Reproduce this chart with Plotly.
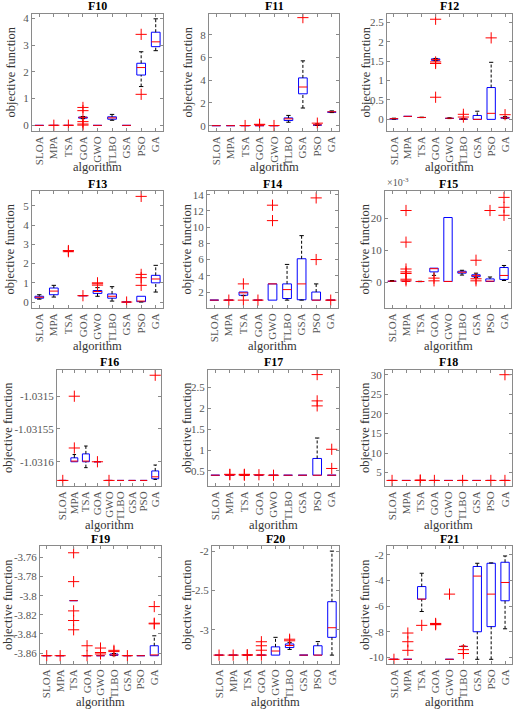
import plotly.graph_objects as go

ALGS = ["SLOA", "MPA", "TSA", "GOA", "GWO", "TLBO", "GSA", "PSO", "GA"]
FUNCS = ["F10", "F11", "F12", "F13", "F14", "F15", "F16", "F17", "F18", "F19", "F20", "F21"]
X_TITLE = "algorithm"
Y_TITLE = "objective function"

# each row: [lower whisker, q1, median, q3, upper whisker], one row per algorithm
F10_BOX = [[0, 0, 0, 0, 0], [0, 0, 0, 0, 0], [0, 0, 0, 0, 0],
           [0.25, 0.27, 0.30, 0.31, 0.33], [0, 0, 0, 0, 0],
           [0.19, 0.23, 0.28, 0.32, 0.41], [0, 0, 0, 0, 0],
           [1.45, 1.88, 2.16, 2.32, 2.75], [2.79, 2.94, 3.12, 3.48, 3.98]]
F10_OUT = [[], [0.005], [0.005], [0.67, 0.55, 0.14, 0.05, 0.01], [], [], [], [3.40, 1.16], []]

F11_BOX = [[0, 0, 0, 0, 0], [0, 0, 0, 0, 0], [0, 0, 0, 0, 0], [0, 0, 0, 0, 0], [0, 0, 0, 0, 0],
           [0.3, 0.45, 0.6, 0.68, 0.9], [1.55, 2.8, 3.4, 4.2, 5.7],
           [0.02, 0.05, 0.08, 0.11, 0.16], [1.15, 1.19, 1.22, 1.25, 1.3]]
F11_OUT = [[], [], [0.01], [0.12, 0.08], [0.01], [], [9.5], [0.22], []]

F12_BOX = [[0.005, 0.012, 0.018, 0.025, 0.03], [0.077, 0.077, 0.077, 0.077, 0.077],
           [0.045, 0.048, 0.05, 0.053, 0.056], [1.51, 1.52, 1.54, 1.56, 1.57],
           [0.02, 0.025, 0.03, 0.035, 0.04], [0.0, 0.005, 0.01, 0.015, 0.02],
           [0, 0, 0, 0.1, 0.21], [0, 0, 0.155, 0.82, 1.47], [0.02, 0.03, 0.04, 0.05, 0.07]]
F12_OUT = [[], [], [], [2.58, 1.48, 1.44, 0.57], [], [0.13, 0.06], [], [2.1], [0.12]]

F13_BOX = [[0.15, 0.2, 0.25, 0.3, 0.38], [0.26, 0.38, 0.57, 0.73, 0.87],
           [2.64, 2.64, 2.64, 2.64, 2.64], [0.33, 0.33, 0.33, 0.33, 0.33],
           [0.3, 0.45, 0.55, 0.6, 0.75], [0.05, 0.2, 0.3, 0.42, 0.8],
           [0, 0, 0, 0, 0], [0.0, 0.02, 0.05, 0.3, 0.3], [0.52, 1.0, 1.2, 1.39, 1.91]]
F13_OUT = [[], [], [2.68, 2.62], [0.33], [0.95, 1.0, 0.88], [], [0.0], [5.5, 1.44, 1.27, 0.87], []]

F14_BOX = [[1, 1, 1, 1, 1], [1, 1, 1, 1, 1], [1.55, 1.6, 1.9, 2.0, 2.0], [1, 1, 1, 1, 1],
           [1, 1, 3, 3, 3], [1.0, 1.2, 2.3, 3.0, 5.4], [1.0, 1.05, 3.0, 6.1, 8.95],
           [1, 1, 1, 2, 3], [1, 1, 1, 1, 1]]
F14_OUT = [[], [1.0], [3.0, 1.0], [1.0], [12.7, 10.8], [], [], [13.6, 6.0], [1.0]]

F15_BOX = [[0.3e-3, 0.35e-3, 0.4e-3, 0.5e-3, 0.6e-3], [0.31e-3, 0.31e-3, 0.31e-3, 0.31e-3, 0.31e-3],
           [0.25e-3, 0.28e-3, 0.3e-3, 0.32e-3, 0.35e-3], [2.2e-3, 3.3e-3, 4.3e-3, 4.46e-3, 4.46e-3],
           [0.31e-3, 0.31e-3, 0.31e-3, 20.3e-3, 20.3e-3], [2.3e-3, 2.9e-3, 3.2e-3, 3.5e-3, 3.8e-3],
           [1.5e-3, 1.8e-3, 2.1e-3, 2.4e-3, 2.9e-3], [0.3e-3, 0.3e-3, 0.4e-3, 1.1e-3, 1.7e-3],
           [0.6e-3, 0.93e-3, 2.18e-3, 4.66e-3, 5.3e-3]]
F15_OUT = [[], [22.5e-3, 12.6e-3, 4.2e-3, 3.3e-3, 2.8e-3, 1.0e-3, 0.5e-3], [], [1.35e-3, 0.5e-3],
           [], [], [6.94e-3, 1.14e-3, 0.5e-3], [22.5e-3], [26.6e-3, 23.5e-3, 21.0e-3]]

F16_BOX = [[-1.0316285] * 5, [-1.0316, -1.0316, -1.031599, -1.031594, -1.031589],
           [-1.031609, -1.0316, -1.031599, -1.031588, -1.031576], [-1.0316] * 5,
           [-1.0316285] * 5, [-1.0316285] * 5, [-1.0316285] * 5, [-1.0316285] * 5,
           [-1.031627, -1.031626, -1.031623, -1.031614, -1.031605]]
F16_OUT = [[-1.0316285], [-1.0315, -1.031579], [], [-1.0316], [-1.0316285], [], [], [], [-1.031468]]

F17_BOX = [[0.398] * 5, [0.398] * 5, [0.398] * 5, [0.398] * 5, [0.398] * 5, [0.398] * 5,
           [0.398] * 5, [0.398, 0.398, 0.398, 0.80, 1.29], [0.398] * 5]
F17_OUT = [[], [0.41, 0.42], [0.41, 0.42, 0.40], [0.41], [0.398], [], [], [2.81, 2.18, 2.06], [1.02, 0.56]]

F18_BOX = [[3] * 5, [3] * 5, [3] * 5, [3] * 5, [3] * 5, [3] * 5, [3] * 5, [3] * 5, [3] * 5]
F18_OUT = [[3.0], [], [3.0, 3.1], [3.0], [], [3.0], [], [3.0], [3.0, 30.0]]

F19_BOX = [[-3.8628] * 5, [-3.8628] * 5, [-3.8052] * 5, [-3.8628] * 5, [-3.8628] * 5,
           [-3.8628, -3.8625, -3.862, -3.861, -3.8605], [-3.8628] * 5, [-3.8628] * 5,
           [-3.8628, -3.8628, -3.862, -3.8524, -3.842]]
F19_OUT = [[-3.8628], [-3.8628], [-3.7551, -3.7853, -3.8159, -3.8260, -3.8357],
           [-3.8524, -3.8628], [-3.8548, -3.8595, -3.8610], [-3.8572, -3.8585],
           [-3.8628], [], [-3.8114, -3.8288, -3.8295]]

F20_BOX = [[-3.322] * 5, [-3.322] * 5, [-3.322] * 5, [-3.322] * 5,
           [-3.322, -3.322, -3.27, -3.217, -3.096], [-3.25, -3.226, -3.2, -3.18, -3.16],
           [-3.322] * 5, [-3.322, -3.322, -3.322, -3.203, -3.15],
           [-3.322, -3.096, -2.974, -2.643, -2.0]]
F20_OUT = [[-3.322], [-3.322], [-3.322, -3.318], [-3.152, -3.203, -3.26, -3.322], [],
           [-3.12, -3.14], [], [], []]

F21_BOX = [[-10.1532] * 5, [-10.1532] * 5, [-6.42, -5.45, -5.45, -4.47, -3.43], [-7.4] * 5,
           [-10.1532] * 5, [-9.16, -9.15, -9.14, -9.13, -9.12],
           [-10.1532, -8.0, -3.65, -2.9, -2.65], [-10.1532, -7.6, -5.06, -2.65, -2.62],
           [-7.77, -5.58, -4.15, -2.57, -2.08]]
F21_OUT = [[-10.1532], [-8.1, -8.78, -9.45], [-7.5], [-7.4, -7.45, -7.35], [-5.06],
           [-9.4, -9.7], [], [], []]

BOXES = [F10_BOX, F11_BOX, F12_BOX, F13_BOX, F14_BOX, F15_BOX,
         F16_BOX, F17_BOX, F18_BOX, F19_BOX, F20_BOX, F21_BOX]
OUTS = [F10_OUT, F11_OUT, F12_OUT, F13_OUT, F14_OUT, F15_OUT,
        F16_OUT, F17_OUT, F18_OUT, F19_OUT, F20_OUT, F21_OUT]

Y_TICKS = [
    [0, 1, 2, 3, 4], [0, 2, 4, 6, 8], [0, 0.5, 1, 1.5, 2, 2.5], [0, 1, 2, 3, 4, 5],
    [2, 4, 6, 8, 10, 12, 14], [0, 0.01, 0.02], [-1.0316, -1.03155, -1.0315],
    [0.5, 1, 1.5, 2, 2.5], [5, 10, 15, 20, 25, 30],
    [-3.86, -3.84, -3.82, -3.8, -3.78, -3.76], [-3, -2.5, -2], [-10, -8, -6, -4, -2]]
Y_TICKTEXT = [
    ["0", "1", "2", "3", "4"], ["0", "2", "4", "6", "8"], ["0", "0.5", "1", "1.5", "2", "2.5"],
    ["0", "1", "2", "3", "4", "5"], ["2", "4", "6", "8", "10", "12", "14"], ["0", "10", "20"],
    ["-1.0316", "-1.03155", "-1.0315"], ["0.5", "1", "1.5", "2", "2.5"],
    ["5", "10", "15", "20", "25", "30"], ["-3.86", "-3.84", "-3.82", "-3.8", "-3.78", "-3.76"],
    ["-3", "-2.5", "-2"], ["-10", "-8", "-6", "-4", "-2"]]

# ---- layout (pixels) ----
W, H = 523, 711
Y_RANGES = [[-0.21, 4.16], [-0.47, 9.82], [-0.30, 2.715], [-0.31, 5.78], [0.03, 14.45],
            [-8e-3, 28.6e-3], [-1.031637, -1.03146], [0.14, 2.92], [1.58, 31.2],
            [-3.8715, -3.748], [-3.435, -1.935], [-10.52, -1.3]]
ROWS_PX = [(14, 131), (191, 308), (370, 486), (546, 664)]
TITLE_Y_PX = [6, 184, 362, 539]
XTITLE_Y_PX = [167, 346, 525, 702]
COLS_PX = [[(32, 163), (209, 339), (387, 512)],
           [(32, 163), (207, 338), (385, 511)],
           [(57, 161), (208, 339), (385, 512)],
           [(40, 161), (212, 339), (387, 512)]]
YTITLE_X_PX = [[10, 187, 365], [10, 187, 365], [8, 187, 365], [8, 187, 365]]

HW = 0.3    # half box width
CAP = 0.15  # half whisker-cap width
FONT = "Liberation Serif"
AXC = "#8a8a8a"
TXC = "#555555"

fig = go.Figure()
layout = dict(width=W, height=H, margin=dict(l=0, r=0, t=0, b=0),
              paper_bgcolor="white", plot_bgcolor="white", showlegend=False,
              font=dict(family=FONT, color=TXC), annotations=[])

for k in range(12):
    n = k + 1
    xs = "x" if n == 1 else f"x{n}"
    ys = "y" if n == 1 else f"y{n}"
    bx, by, mx, my, wx, wy, cx, cy, ox, oy = ([] for _ in range(10))
    for j, (lw, q1, med, q3, uw) in enumerate(BOXES[k]):
        p = j + 1
        bx += [p - HW, p + HW, p + HW, p - HW, p - HW, None]
        by += [q1, q1, q3, q3, q1, None]
        mx += [p - HW, p + HW, None]
        my += [med, med, None]
        if uw > q3:
            wx += [p, p, None]; wy += [q3, uw, None]
            cx += [p - CAP, p + CAP, None]; cy += [uw, uw, None]
        if lw < q1:
            wx += [p, p, None]; wy += [lw, q1, None]
            cx += [p - CAP, p + CAP, None]; cy += [lw, lw, None]
        for v in OUTS[k][j]:
            ox.append(p); oy.append(v)
    common = dict(xaxis=xs, yaxis=ys, hoverinfo="skip", showlegend=False)
    fig.add_trace(go.Scatter(x=bx, y=by, mode="lines", line=dict(color="#0000ff", width=1), **common))
    fig.add_trace(go.Scatter(x=wx, y=wy, mode="lines",
                             line=dict(color="black", width=1, dash="3px,2px"), **common))
    fig.add_trace(go.Scatter(x=cx, y=cy, mode="lines", line=dict(color="black", width=1), **common))
    fig.add_trace(go.Scatter(x=mx, y=my, mode="lines", line=dict(color="#ff0000", width=1), **common))
    fig.add_trace(go.Scatter(x=ox, y=oy, mode="markers",
                             marker=dict(symbol="cross-thin", size=8,
                                         line=dict(color="#ff0000", width=1)), **common))

    r, c = divmod(k, 3)
    top, bot = ROWS_PX[r]
    left, right = COLS_PX[r][c]
    axis_common = dict(showline=True, linecolor=AXC, linewidth=1, mirror="ticks",
                       ticks="inside", ticklen=3, tickcolor=AXC, showgrid=False,
                       zeroline=False, automargin=False,
                       tickfont=dict(family=FONT, size=11, color=TXC))
    layout["xaxis" if n == 1 else f"xaxis{n}"] = dict(
        domain=[left / W, right / W], anchor=ys, range=[0.5, 9.5],
        tickvals=list(range(1, 10)), ticktext=ALGS, tickangle=-90, **axis_common)
    layout["yaxis" if n == 1 else f"yaxis{n}"] = dict(
        domain=[1 - bot / H, 1 - top / H], anchor=xs, range=Y_RANGES[k],
        tickvals=Y_TICKS[k], ticktext=Y_TICKTEXT[k], **axis_common)
    ann = layout["annotations"]
    ann.append(dict(
        text="<b>" + FUNCS[k] + "</b>", x=(left + right) / 2 / W, y=1 - TITLE_Y_PX[r] / H,
        xref="paper", yref="paper", xanchor="center", yanchor="middle", showarrow=False,
        font=dict(family=FONT, size=12, color="black")))
    ann.append(dict(
        text=X_TITLE, x=(left + right) / 2 / W, y=1 - XTITLE_Y_PX[r] / H,
        xref="paper", yref="paper", xanchor="center", yanchor="middle", showarrow=False,
        font=dict(family=FONT, size=12.5, color="#333333")))
    ann.append(dict(
        text=Y_TITLE, x=YTITLE_X_PX[r][c] / W, y=1 - (top + bot) / 2 / H, textangle=-90,
        xref="paper", yref="paper", xanchor="center", yanchor="middle", showarrow=False,
        font=dict(family=FONT, size=12.5, color="#333333")))
    if FUNCS[k] == "F15":
        ann.append(dict(
            text="×10<sup>-3</sup>", x=left / W, y=1 - (top - 1) / H, xref="paper", yref="paper",
            xanchor="left", yanchor="bottom", showarrow=False,
            font=dict(family=FONT, size=10, color=TXC)))

fig.update_layout(**layout)
fig.write_html("out.html", config={"displayModeBar": False},
               post_script="document.body.style.margin='0';document.body.style.overflow='hidden';")
